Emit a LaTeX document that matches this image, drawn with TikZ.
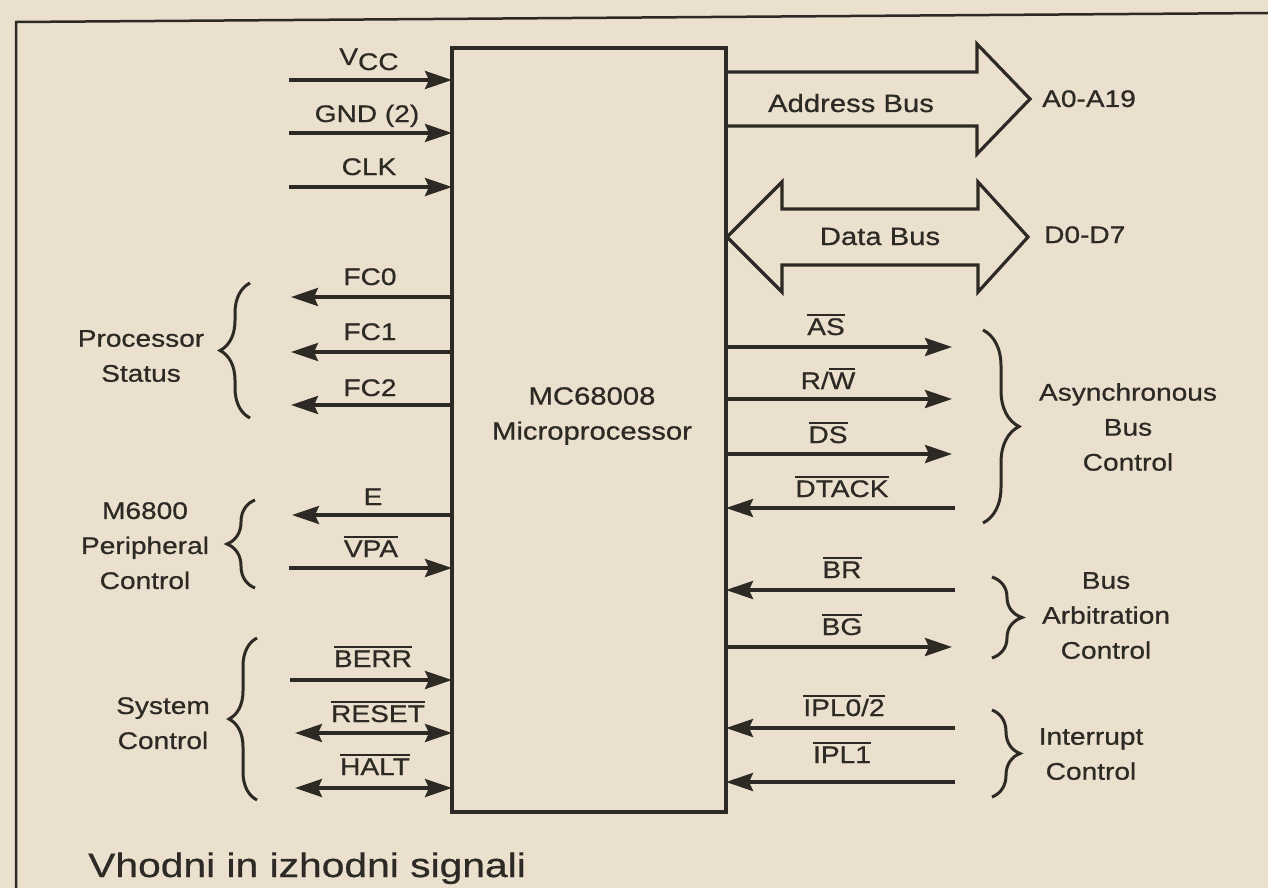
\documentclass[tikz,border=0pt]{standalone}
\usepackage{fontspec}
\setmainfont{Liberation Sans}[FakeStretch=1.17,FakeBold=0.7]
\newfontfamily\capfont{Liberation Sans}[FakeStretch=1.2,FakeBold=0.7]
\usetikzlibrary{arrows.meta,decorations.pathreplacing}
\definecolor{paper}{RGB}{234,224,205}
\definecolor{ink}{RGB}{45,41,37}
\newcommand\ovl[1]{\leavevmode\vbox{\hrule height 2pt\kern 2.6pt\hbox{#1}}}
\begin{document}
\begin{tikzpicture}[x=1pt,y=-1pt,
  >={Stealth[length=27pt,width=18pt,inset=4pt]},
  sig/.style={line width=3.4pt,draw=ink},
  lbl/.style={font=\fontsize{24}{35}\selectfont,text=ink,inner sep=0pt,anchor=base},
  grp/.style={font=\fontsize{24}{35}\selectfont,text=ink,inner sep=0pt,anchor=north,align=center},
  brc/.style={line width=3pt,draw=ink,decorate,decoration={brace,amplitude=#1}},
  bus/.style={line width=3.2pt,draw=ink,line join=miter}]
\fill[paper] (0,0) rectangle (1268,888);
\useasboundingbox (0,0) rectangle (1268,888);
% frame
\draw[line width=2.5pt,ink] (16,888) -- (16,22) -- (1268,13);
% chip
\node[draw=ink,line width=3.2pt,minimum width=274pt,minimum height=764pt,outer sep=0pt,inner sep=0pt] (chip) at (589,430) {};
\node[font=\fontsize{25}{35}\selectfont,text=ink,inner sep=0pt,align=center] (chiptxt) at (592,416) {MC68008\\Microprocessor};
% left inputs
\coordinate (vcc) at (289,80);
\coordinate (gnd) at (289,133);
\coordinate (clk) at (289,187);
\draw[sig,->] (vcc) -- (vcc -| chip.west);
\draw[sig,->] (gnd) -- (gnd -| chip.west);
\draw[sig,->] (clk) -- (clk -| chip.west);
\node[lbl] (lvcc) at (369,70) {\raisebox{5pt}{V}CC};
\node[lbl] (lgnd) at (367,122) {GND (2)};
\node[lbl] (lclk) at (369,175) {CLK};
% processor status
\coordinate (fc0) at (291,297);
\coordinate (fc1) at (291,352);
\coordinate (fc2) at (291,405);
\draw[sig,->] (fc0 -| chip.west) -- (fc0);
\draw[sig,->] (fc1 -| chip.west) -- (fc1);
\draw[sig,->] (fc2 -| chip.west) -- (fc2);
\node[lbl] (lfc0) at (370,285) {FC0};
\node[lbl] (lfc1) at (370,340) {FC1};
\node[lbl] (lfc2) at (370,396) {FC2};
\coordinate (ps1) at (250,418);
\coordinate (ps2) at (250,283);
\draw[brc=30pt] (ps1) -- (ps2);
\node[grp] (gps) at (141,330) {Processor\\Status};
% M6800
\coordinate (e) at (292,515);
\coordinate (vpa) at (289,568);
\draw[sig,->] (e -| chip.west) -- (e);
\draw[sig,->] (vpa) -- (vpa -| chip.west);
\node[lbl] (le) at (373,505) {E};
\node[lbl] (lvpa) at (371,557) {\ovl{VPA}};
\coordinate (mp1) at (255,588);
\coordinate (mp2) at (255,500);
\draw[brc=28pt] (mp1) -- (mp2);
\node[grp] (gmp) at (145,502) {M6800\\Peripheral\\Control};
% system control
\coordinate (berr) at (290,680);
\coordinate (reset) at (295,733);
\coordinate (halt) at (295,788);
\draw[sig,->] (berr) -- (berr -| chip.west);
\draw[sig,<->] (reset) -- (reset -| chip.west);
\draw[sig,<->] (halt) -- (halt -| chip.west);
\node[lbl] (lberr) at (373,667) {\ovl{BERR}};
\node[lbl] (lreset) at (378,722) {\ovl{RESET}};
\node[lbl] (lhalt) at (375,775) {\ovl{HALT}};
\coordinate (sc1) at (257,800);
\coordinate (sc2) at (257,638);
\draw[brc=28pt] (sc1) -- (sc2);
\node[grp] (gsc) at (163,697) {System\\Control};
% buses
\draw[bus] (726,72) -- (977,72) -- (977,44) -- (1030,99) -- (977,154) -- (977,126) -- (726,126);
\node[font=\fontsize{25}{30}\selectfont,text=ink,inner sep=0pt,anchor=base] (labus) at (851,112) {Address Bus};
\node[lbl,anchor=base west] (la) at (1042,107) {A0-A19};
\draw[bus] (782,209) -- (978,209) -- (978,182) -- (1028,237) -- (978,292) -- (978,265) -- (782,265) -- (782,292) -- (727,237) -- (782,182) -- cycle;
\node[font=\fontsize{25}{30}\selectfont,text=ink,inner sep=0pt,anchor=base] (ldbus) at (880,245) {Data Bus};
\node[lbl,anchor=base west] (ld) at (1044,243) {D0-D7};
% asynchronous bus control
\coordinate (as) at (952,347);
\coordinate (rw) at (952,399);
\coordinate (ds) at (952,454);
\coordinate (dtack) at (955,508);
\draw[sig,->] (as -| chip.east) -- (as);
\draw[sig,->] (rw -| chip.east) -- (rw);
\draw[sig,->] (ds -| chip.east) -- (ds);
\draw[sig,->] (dtack) -- (dtack -| chip.east);
\node[lbl] (las) at (826,335) {\ovl{AS}};
\node[lbl] (lrw) at (828,389) {R/\ovl{W}};
\node[lbl] (lds) at (828,443) {\ovl{DS}};
\node[lbl] (ldtack) at (842,497) {\ovl{DTACK}};
\coordinate (ab1) at (983,330);
\coordinate (ab2) at (983,523);
\draw[brc=36pt] (ab1) -- (ab2);
\node[grp] (gab) at (1128,383) {Asynchronous\\Bus\\Control};
% bus arbitration
\coordinate (br) at (955,590);
\coordinate (bg) at (952,647);
\draw[sig,->] (br) -- (br -| chip.east);
\draw[sig,->] (bg -| chip.east) -- (bg);
\node[lbl] (lbr) at (842,578) {\ovl{BR}};
\node[lbl] (lbg) at (842,635) {\ovl{BG}};
\coordinate (ba1) at (992,577);
\coordinate (ba2) at (992,658);
\draw[brc=30pt] (ba1) -- (ba2);
\node[grp] (gba) at (1106,572) {Bus\\Arbitration\\Control};
% interrupt control
\coordinate (ipla) at (955,728);
\coordinate (iplb) at (955,782);
\draw[sig,->] (ipla) -- (ipla -| chip.east);
\draw[sig,->] (iplb) -- (iplb -| chip.east);
\node[lbl] (lipla) at (844,716) {\ovl{IPL0}/\ovl{2}};
\node[lbl] (liplb) at (842,763) {\ovl{IPL1}};
\coordinate (ic1) at (992,710);
\coordinate (ic2) at (992,797);
\draw[brc=28pt] (ic1) -- (ic2);
\node[grp] (gic) at (1091,728) {Interrupt\\Control};
% caption
\node[font=\capfont\fontsize{34}{40}\selectfont,text=ink,inner sep=0pt,anchor=base west] (cap) at (88,877) {Vhodni in izhodni signali};
\end{tikzpicture}
\end{document}
